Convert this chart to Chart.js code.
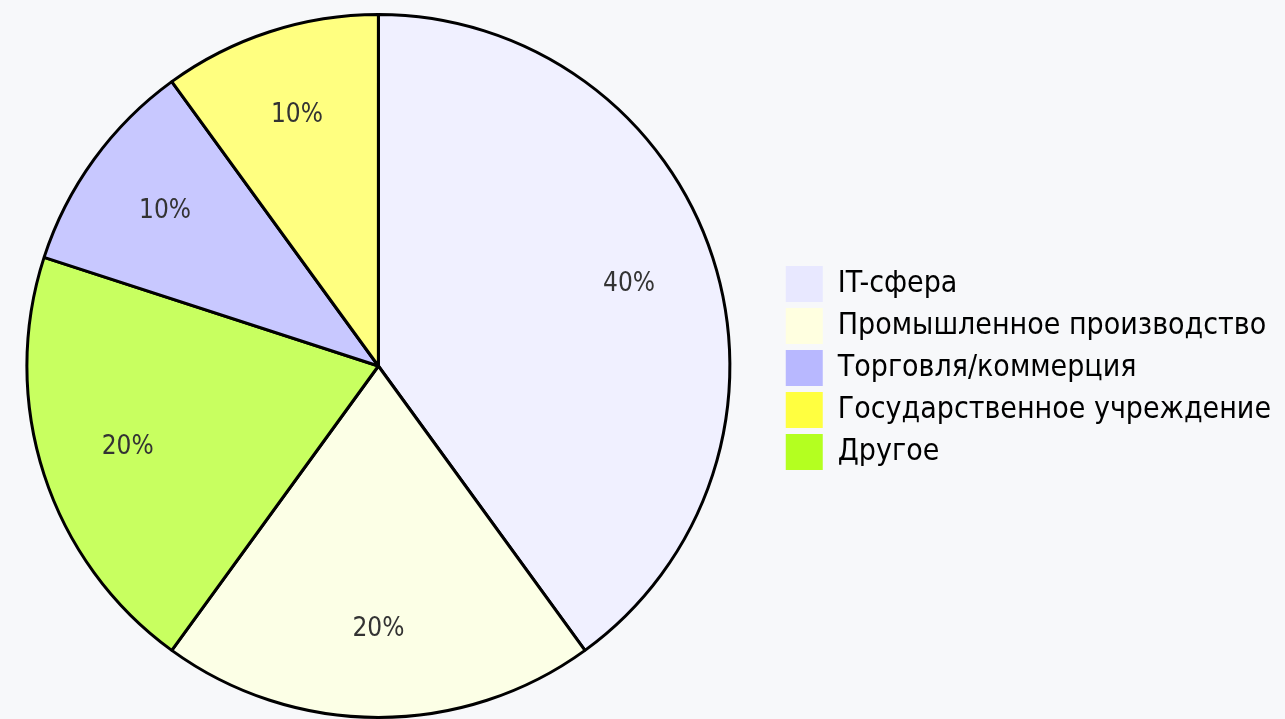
<!DOCTYPE html>
<html>
<head>
<meta charset="utf-8">
<script src="https://cdn.jsdelivr.net/npm/chart.js@4"></script>
<style>
    html, body { margin: 0; padding: 0; background: #f7f8fa; overflow: hidden; }
    #wrap { width: 1308px; height: 719px; margin-left: -23px; }
</style>
</head>
<body>
<div id="wrap"><canvas id="sectorChart"></canvas></div>
<script>
// slice order (clockwise from the top)
const labels = ['IT-сфера', 'Промышленное производство', 'Другое', 'Торговля/коммерция', 'Государственное учреждение'];
const shares = [40, 20, 20, 10, 10];
const sliceColors = ['#f0f0ff', '#fcffe6', '#c8ff60', '#c8c8ff', '#ffff80'];
const legendColors = ['#e8e8ff', '#ffffe0', '#b4ff20', '#b8b8ff', '#ffff40'];
// legend order as shown on the right
const legendOrder = ['IT-сфера', 'Промышленное производство', 'Торговля/коммерция', 'Государственное учреждение', 'Другое'];

const font = 'DejaVu Sans Condensed, DejaVu Sans, sans-serif';

const sliceLabels = {
    id: 'sliceLabels',
    afterDatasetsDraw(chart) {
        const ctx = chart.ctx;
        const meta = chart.getDatasetMeta(0);
        ctx.save();
        ctx.font = `26px ${font}`;
        ctx.fillStyle = '#333';
        ctx.textAlign = 'center';
        ctx.textBaseline = 'middle';
        meta.data.forEach((arc, i) => {
            const { x, y, startAngle, endAngle, outerRadius } = arc.getProps(['x', 'y', 'startAngle', 'endAngle', 'outerRadius']);
            const mid = (startAngle + endAngle) / 2;
            const r = outerRadius * 0.75;
            ctx.fillText(shares[i] + '%', x + Math.cos(mid) * r, y + Math.sin(mid) * r);
        });
        ctx.restore();
    },
};

new Chart(document.getElementById('sectorChart'), {
    type: 'pie',
    data: {
        labels: labels,
        datasets: [{
            data: shares,
            backgroundColor: sliceColors,
            borderColor: '#000',
            borderWidth: 3,
        }],
    },
    options: {
        responsive: true,
        maintainAspectRatio: false,
        animation: false,
        layout: { padding: { top: 13, bottom: -4, left: 0, right: 4 } },
        plugins: {
            tooltip: { enabled: false },
            legend: {
                position: 'right',
                labels: {
                    boxWidth: 37,
                    boxHeight: 36,
                    padding: 6,
                    color: '#111',
                    font: { family: font, size: 30 },
                    sort: (a, b) => legendOrder.indexOf(a.text) - legendOrder.indexOf(b.text),
                    generateLabels(chart) {
                        return labels.map((text, i) => ({
                            text: text,
                            fillStyle: legendColors[i],
                            strokeStyle: legendColors[i],
                            lineWidth: 0,
                            index: i,
                            hidden: false,
                        }));
                    },
                },
            },
        },
    },
    plugins: [sliceLabels],
});
</script>
</body>
</html>
